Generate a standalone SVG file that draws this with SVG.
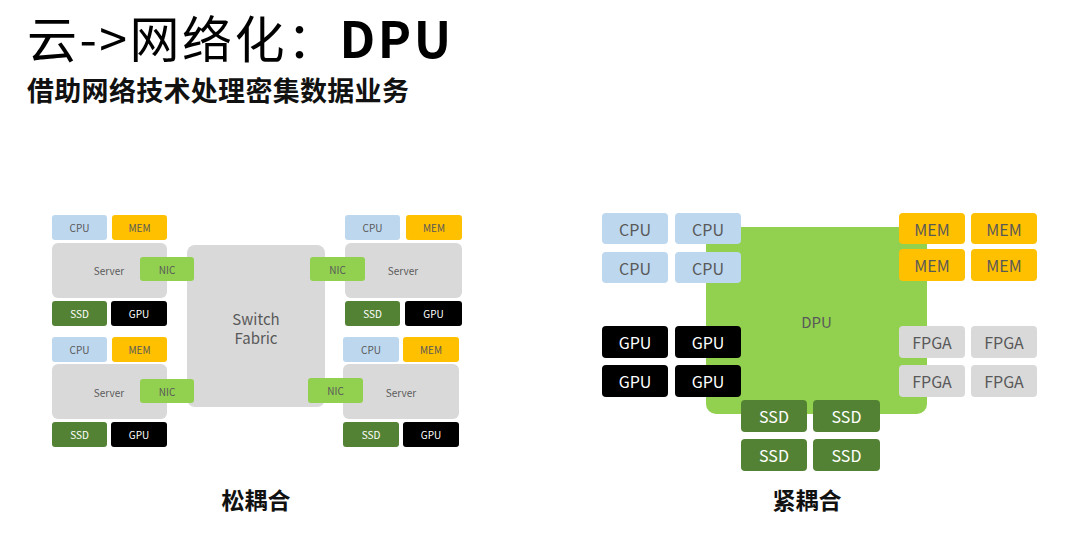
<svg xmlns="http://www.w3.org/2000/svg" width="1080" height="535" viewBox="0 0 1080 535">
<style>
text{font-family:"Noto Sans CJK SC","Noto Sans",sans-serif;text-anchor:middle;dominant-baseline:central}
.cpu{fill:#BDD7EE}.mem{fill:#FFC000}.ssd{fill:#548235}.gpu{fill:#000}.gry{fill:#D9D9D9}.grn{fill:#92D050}
.s{font-size:10px;fill:#595959}.sw{font-size:10px;fill:#fff}
.m{font-size:16px;fill:#595959}.mw{font-size:16px;fill:#fff}
</style>
<rect width="1080" height="535" fill="#fff"/>
<text x="27" y="58" style="text-anchor:start;dominant-baseline:auto;font-size:50px;letter-spacing:2.5px;fill:#000">云-&gt;网络化：<tspan font-weight="bold">DPU</tspan></text>
<text x="27" y="101" style="text-anchor:start;dominant-baseline:auto;font-size:27px;letter-spacing:0.3px;font-weight:bold;fill:#111">借助网络技术处理密集数据业务</text>

<g id="loose">
<g id="switch"><rect class="gry" x="187" y="245" width="138" height="162" rx="8"/><text x="256" y="318" style="font-size:15px;fill:#595959">Switch</text><text x="256" y="337" style="font-size:15px;fill:#595959">Fabric</text></g>

<g id="srv1">
<rect class="cpu" x="52" y="215" width="55" height="25" rx="3"/><text class="s" x="79.5" y="227.5">CPU</text>
<rect class="mem" x="112" y="215" width="55" height="25" rx="3"/><text class="s" x="139.5" y="227.5">MEM</text>
<rect class="gry" x="52" y="243" width="115" height="55" rx="6"/><text class="s" x="109" y="270">Server</text>
<rect class="grn" x="140" y="257" width="54" height="24" rx="3"/><text class="s" x="167" y="269">NIC</text>
<rect class="ssd" x="52" y="301" width="55" height="25" rx="3"/><text class="sw" x="79.5" y="313.5">SSD</text>
<rect class="gpu" x="111" y="301" width="56" height="25" rx="3"/><text class="sw" x="139" y="313.5">GPU</text>
</g>
<g id="srv2">
<rect class="cpu" x="52" y="337" width="55" height="25" rx="3"/><text class="s" x="79.5" y="349.5">CPU</text>
<rect class="mem" x="112" y="337" width="55" height="25" rx="3"/><text class="s" x="139.5" y="349.5">MEM</text>
<rect class="gry" x="52" y="364" width="115" height="55" rx="6"/><text class="s" x="109" y="392">Server</text>
<rect class="grn" x="140" y="379" width="54" height="24" rx="3"/><text class="s" x="167" y="391">NIC</text>
<rect class="ssd" x="52" y="422" width="55" height="25" rx="3"/><text class="sw" x="79.5" y="434.5">SSD</text>
<rect class="gpu" x="111" y="422" width="56" height="25" rx="3"/><text class="sw" x="139" y="434.5">GPU</text>
</g>
<g id="srv3">
<rect class="cpu" x="345" y="215" width="55" height="25" rx="3"/><text class="s" x="372.5" y="227.5">CPU</text>
<rect class="mem" x="406" y="215" width="56" height="25" rx="3"/><text class="s" x="434" y="227.5">MEM</text>
<rect class="gry" x="345" y="243" width="117" height="55" rx="6"/><text class="s" x="403" y="270">Server</text>
<rect class="grn" x="310" y="257" width="55" height="24" rx="3"/><text class="s" x="337.5" y="269">NIC</text>
<rect class="ssd" x="345" y="301" width="55" height="25" rx="3"/><text class="sw" x="372.5" y="313.5">SSD</text>
<rect class="gpu" x="405" y="301" width="57" height="25" rx="3"/><text class="sw" x="433.5" y="313.5">GPU</text>
</g>
<g id="srv4">
<rect class="cpu" x="343" y="337" width="56" height="25" rx="3"/><text class="s" x="371" y="349.5">CPU</text>
<rect class="mem" x="403" y="337" width="56" height="25" rx="3"/><text class="s" x="431" y="349.5">MEM</text>
<rect class="gry" x="343" y="364" width="116" height="55" rx="6"/><text class="s" x="401" y="392">Server</text>
<rect class="grn" x="308" y="378" width="55" height="25" rx="3"/><text class="s" x="335.5" y="390.5">NIC</text>
<rect class="ssd" x="343" y="422" width="56" height="25" rx="3"/><text class="sw" x="371" y="434.5">SSD</text>
<rect class="gpu" x="403" y="422" width="56" height="25" rx="3"/><text class="sw" x="431" y="434.5">GPU</text>
</g>
</g>

<g id="tight">
<g id="dpu"><rect class="grn" x="706" y="227" width="221" height="187" rx="10"/><text x="816.5" y="321" style="font-size:15px;fill:#595959">DPU</text></g>
<g id="cpus">
<rect class="cpu" x="602" y="213" width="66" height="31" rx="4"/><text class="m" x="635" y="228.5">CPU</text>
<rect class="cpu" x="675" y="213" width="66" height="31" rx="4"/><text class="m" x="708" y="228.5">CPU</text>
<rect class="cpu" x="602" y="252" width="66" height="31" rx="4"/><text class="m" x="635" y="267.5">CPU</text>
<rect class="cpu" x="675" y="252" width="66" height="31" rx="4"/><text class="m" x="708" y="267.5">CPU</text>
</g>
<g id="mems">
<rect class="mem" x="899" y="213" width="66" height="31" rx="4"/><text class="m" x="932" y="228.5">MEM</text>
<rect class="mem" x="971" y="213" width="66" height="31" rx="4"/><text class="m" x="1004" y="228.5">MEM</text>
<rect class="mem" x="899" y="249" width="66" height="32" rx="4"/><text class="m" x="932" y="265">MEM</text>
<rect class="mem" x="971" y="249" width="66" height="32" rx="4"/><text class="m" x="1004" y="265">MEM</text>
</g>
<g id="gpus">
<rect class="gpu" x="602" y="326" width="66" height="32" rx="4"/><text class="mw" x="635" y="342">GPU</text>
<rect class="gpu" x="675" y="326" width="66" height="32" rx="4"/><text class="mw" x="708" y="342">GPU</text>
<rect class="gpu" x="602" y="365" width="66" height="32" rx="4"/><text class="mw" x="635" y="381">GPU</text>
<rect class="gpu" x="675" y="365" width="66" height="32" rx="4"/><text class="mw" x="708" y="381">GPU</text>
</g>
<g id="fpgas">
<rect class="gry" x="899" y="326" width="66" height="32" rx="4"/><text class="m" x="932" y="342">FPGA</text>
<rect class="gry" x="971" y="326" width="66" height="32" rx="4"/><text class="m" x="1004" y="342">FPGA</text>
<rect class="gry" x="899" y="365" width="66" height="32" rx="4"/><text class="m" x="932" y="381">FPGA</text>
<rect class="gry" x="971" y="365" width="66" height="32" rx="4"/><text class="m" x="1004" y="381">FPGA</text>
</g>
<g id="ssds">
<rect class="ssd" x="741" y="400" width="66" height="32" rx="4"/><text class="mw" x="774" y="416">SSD</text>
<rect class="ssd" x="813" y="400" width="67" height="32" rx="4"/><text class="mw" x="846.5" y="416">SSD</text>
<rect class="ssd" x="741" y="439" width="66" height="32" rx="4"/><text class="mw" x="774" y="455">SSD</text>
<rect class="ssd" x="813" y="439" width="67" height="32" rx="4"/><text class="mw" x="846.5" y="455">SSD</text>
</g>
</g>

<g id="connectors"/>

<g id="captions">
<text x="256" y="509" style="dominant-baseline:auto;font-size:23px;font-weight:bold;fill:#111">松耦合</text>
<text x="807" y="509" style="dominant-baseline:auto;font-size:23px;font-weight:bold;fill:#111">紧耦合</text>
</g>
</svg>
